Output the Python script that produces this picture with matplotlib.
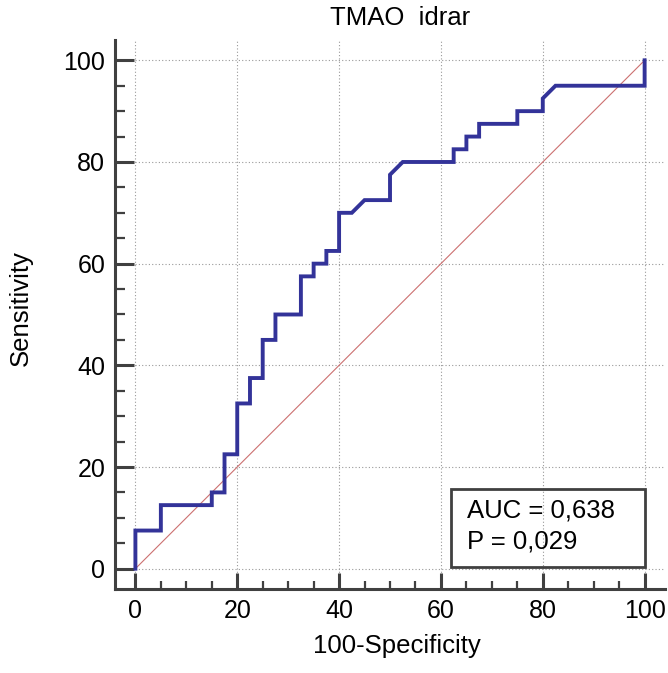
import matplotlib
matplotlib.use("Agg")
import matplotlib.pyplot as plt
from matplotlib.patches import Rectangle
from matplotlib.ticker import MultipleLocator

plt.rcParams['font.family'] = ['Liberation Sans', 'DejaVu Sans']

# ROC curve vertices (100-Specificity, Sensitivity)
fpr = [0, 0, 5, 5, 15, 15, 17.5, 17.5, 20, 20, 22.5, 22.5, 25, 25, 27.5, 27.5,
       32.5, 32.5, 35, 35, 37.5, 37.5, 40, 40, 42.5, 45, 50, 50, 52.5, 62.5,
       62.5, 65, 65, 67.5, 67.5, 75, 75, 80, 80, 82.5, 100, 100]
tpr = [0, 7.5, 7.5, 12.5, 12.5, 15, 15, 22.5, 22.5, 32.5, 32.5, 37.5, 37.5, 45,
       45, 50, 50, 57.5, 57.5, 60, 60, 62.5, 62.5, 70, 70, 72.5, 72.5, 77.5, 80,
       80, 82.5, 82.5, 85, 85, 87.5, 87.5, 90, 90, 92.5, 95, 95, 100]

title = "TMAO  idrar"
auc_text = "AUC = 0,638"
p_text = "P = 0,029"

fig = plt.figure(figsize=(6.68, 6.73), dpi=100)
ax = fig.add_axes([0.1722, 0.1248, 0.8233, 0.8158])

# reference line
ax.plot([0, 100], [0, 100], color='#cc7070', lw=0.8, zorder=2)
# ROC curve
ax.plot(fpr, tpr, color='#333399', lw=2.8, solid_joinstyle='miter', zorder=3)

ax.set_xlim(-4, 104)
ax.set_ylim(-4, 104)

ax.xaxis.set_major_locator(MultipleLocator(20))
ax.yaxis.set_major_locator(MultipleLocator(20))
ax.xaxis.set_minor_locator(MultipleLocator(5))
ax.yaxis.set_minor_locator(MultipleLocator(5))

ax.grid(which='major', color='#999999', lw=0.8, linestyle=(0, (1, 2)))

for s in ['top', 'right']:
    ax.spines[s].set_visible(False)
for s in ['left', 'bottom']:
    ax.spines[s].set_color('#404040')
    ax.spines[s].set_linewidth(2.2)

ax.tick_params(axis='y', which='major', direction='in', length=14, width=2.2,
               color='#404040', labelsize=18, pad=7)
ax.tick_params(axis='y', which='minor', direction='in', length=7.5, width=1.6,
               color='#404040')
ax.tick_params(axis='x', which='major', direction='in', length=11.5, width=2.2,
               color='#404040', labelsize=18, pad=7)
ax.tick_params(axis='x', which='minor', direction='in', length=6, width=1.6,
               color='#404040')

ax.set_xlabel("100-Specificity", fontsize=18.5, va='center')
ax.xaxis.set_label_coords(0.513, -0.104)
ax.set_ylabel("Sensitivity", fontsize=18.5, va='center')
ax.yaxis.set_label_coords(-0.171, 0.512)
ax.set_title(title, fontsize=18.5, x=0.518, y=1.04, pad=0, va='center')

# AUC box
ax.add_patch(Rectangle((62, 0.4), 38, 15.2, fill=False, edgecolor='#404040',
                       lw=2, zorder=4))
ax.text(65.2, 11.4, auc_text, fontsize=18.5, va='center', ha='left', zorder=5)
ax.text(65.2, 5.4, p_text, fontsize=18.5, va='center', ha='left', zorder=5)

fig.savefig("out.png", dpi=100)
